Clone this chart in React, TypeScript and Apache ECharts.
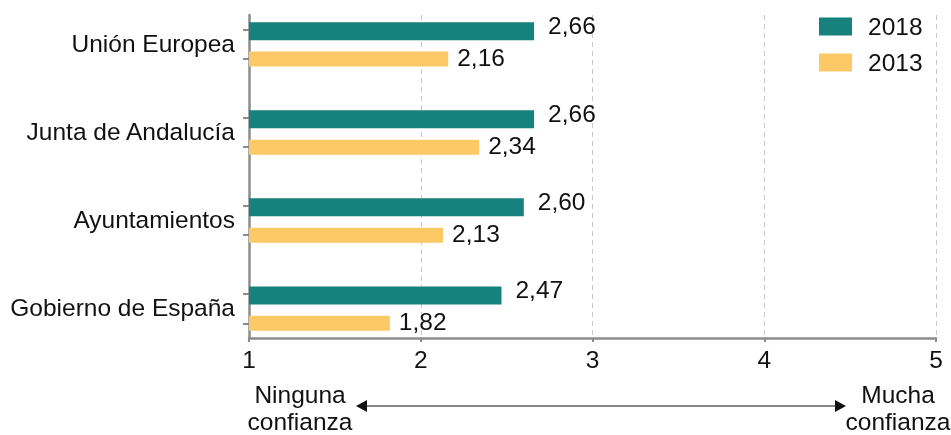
import React, { useEffect, useRef } from "react";
import * as echarts from "echarts";

const categories = ["Unión Europea", "Junta de Andalucía", "Ayuntamientos", "Gobierno de España"];
const values2018 = [2.66, 2.66, 2.6, 2.47];
const values2013 = [2.16, 2.34, 2.13, 1.82];
const seriesNames = ["2018", "2013"];
const xTicks = [1, 2, 3, 4, 5];
const leftNote = "Ninguna\nconfianza";
const rightNote = "Mucha\nconfianza";

const TEAL = "#17827d";
const YELLOW = "#fcc966";
const AXIS = "#8c8c8c";
const FONT = "'Liberation Sans', Arial, sans-serif";
const FS = 24.5;

export default function App() {
  const ref = useRef<HTMLDivElement>(null);
  useEffect(() => {
    if (!ref.current) return;
    const chart = echarts.init(ref.current, undefined, { renderer: "svg" });
    const slotCount = categories.length * 3 - 1;
    const slots = Array.from({ length: slotCount }, (_, i) => i);
    const yCats = slots.map((i) => (i % 3 === 0 ? categories[i / 3] : ""));
    const d2018 = slots.map((i) => (i % 3 === 0 ? values2018[i / 3] : "-"));
    const d2013 = slots.map((i) => (i % 3 === 1 ? values2013[(i - 1) / 3] : "-"));
    const fmt = (p: any) => Number(p.value).toFixed(2).replace(".", ",");

    chart.setOption({
      animation: false,
      textStyle: { fontFamily: FONT },
      grid: { left: 249, right: 15, top: 15, bottom: 97, containLabel: false },
      legend: {
        data: seriesNames,
        orient: "vertical",
        left: 819,
        top: 14,
        padding: 0,
        itemWidth: 33,
        itemHeight: 18,
        itemGap: 11,
        icon: "rect",
        textStyle: { fontSize: FS, color: "#111", padding: [0, 0, 0, 11], fontFamily: FONT },
      },
      xAxis: {
        type: "value",
        min: xTicks[0],
        max: xTicks[xTicks.length - 1],
        interval: 1,
        axisLine: { show: true, lineStyle: { color: AXIS, width: 2.5 } },
        axisTick: { show: true, length: 4, lineStyle: { color: AXIS, width: 2 } },
        axisLabel: { fontSize: FS, color: "#111", margin: 9, fontFamily: FONT },
        splitLine: { show: true, lineStyle: { color: "#c8c8c8", type: [5, 4], width: 1 } },
      },
      yAxis: {
        type: "category",
        inverse: true,
        data: yCats,
        axisLine: { show: true, lineStyle: { color: AXIS, width: 2.5 } },
        axisTick: {
          show: true,
          alignWithLabel: true,
          length: 6,
          interval: (i: number) => i % 3 !== 2,
          lineStyle: { color: AXIS, width: 2 },
        },
        axisLabel: {
          interval: (i: number) => i % 3 === 0,
          fontSize: FS,
          color: "#111",
          margin: 14,
          verticalAlign: "top",
          lineHeight: 28,
          fontFamily: FONT,
        },
        splitLine: { show: false },
      },
      series: [
        {
          name: seriesNames[0],
          type: "bar",
          data: d2018,
          barWidth: 18,
          barGap: "-100%",
          itemStyle: { color: TEAL },
          label: { show: true, position: "right", distance: 14, offset: [0, -6], fontSize: FS, color: "#111", formatter: fmt, fontFamily: FONT },
        },
        {
          name: seriesNames[1],
          type: "bar",
          data: d2013,
          barWidth: 15,
          barGap: "-100%",
          itemStyle: { color: YELLOW },
          label: { show: true, position: "right", distance: 9, offset: [0, -2], fontSize: FS, color: "#111", formatter: fmt, fontFamily: FONT },
        },
      ],
      graphic: [
        {
          type: "text",
          x: 300,
          y: 381,
          style: { text: leftNote, fontSize: FS, lineHeight: 27, fill: "#111", align: "center", verticalAlign: "top", fontFamily: FONT },
        },
        {
          type: "text",
          x: 898,
          y: 381,
          style: { text: rightNote, fontSize: FS, lineHeight: 27, fill: "#111", align: "center", verticalAlign: "top", fontFamily: FONT },
        },
        {
          type: "line",
          shape: { x1: 362, y1: 406, x2: 840, y2: 406 },
          style: { stroke: "#111", lineWidth: 1 },
        },
        {
          type: "polygon",
          shape: { points: [[356, 406], [367, 400], [367, 412]] },
          style: { fill: "#111" },
        },
        {
          type: "polygon",
          shape: { points: [[846, 406], [835, 400], [835, 412]] },
          style: { fill: "#111" },
        },
      ],
    });
    return () => chart.dispose();
  }, []);
  return <div ref={ref} style={{ position: "fixed", left: 0, top: 0, width: 951, height: 435 }} />;
}
